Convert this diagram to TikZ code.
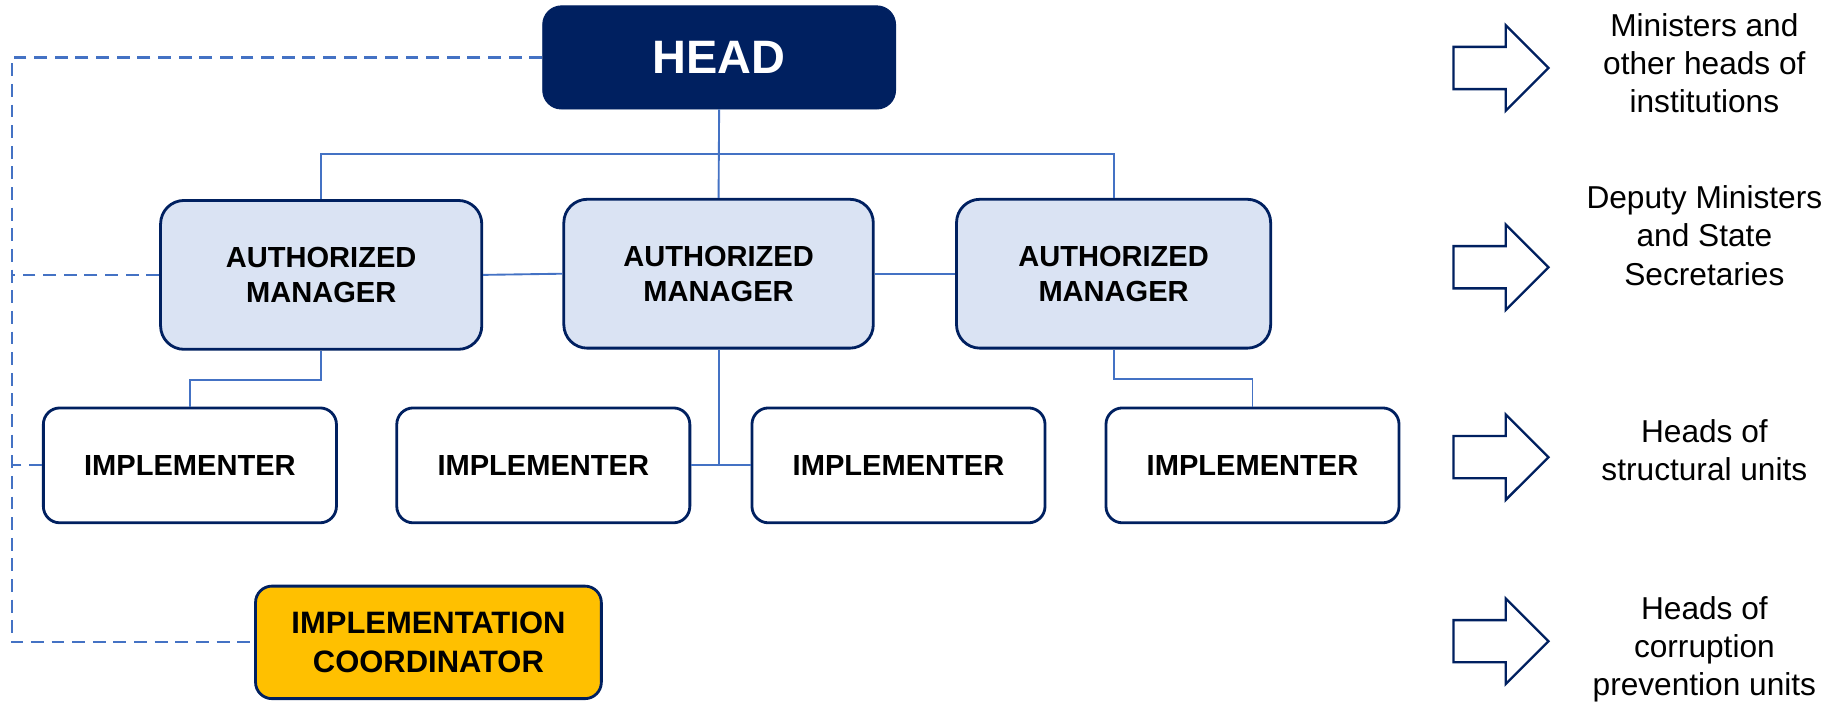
\documentclass[tikz,border=0pt]{standalone}
\usepackage{xcolor}
\usepackage{fontspec}
\setmainfont{Liberation Sans}
\usetikzlibrary{shapes.arrows}
\definecolor{headnavy}{RGB}{0,32,96}
\definecolor{managerfill}{RGB}{218,227,243}
\definecolor{linkblue}{RGB}{68,114,196}
\definecolor{coordgold}{RGB}{255,192,0}

\begin{document}
\begin{tikzpicture}[x=0.5pt, y=-0.5pt,
  headbox/.style={draw=headnavy, fill=headnavy, rounded corners=8pt, minimum width=150.5pt, minimum height=44pt, inner sep=0pt, text=white, font=\fontsize{20pt}{24pt}\selectfont\bfseries},
  managerbox/.style={draw=headnavy, line width=1.2pt, fill=managerfill, rounded corners=10pt, minimum width=134pt, minimum height=63.5pt, inner sep=0pt, align=center, font=\fontsize{12.4pt}{15pt}\selectfont\bfseries},
  implbox/.style={draw=headnavy, line width=1.2pt, fill=white, rounded corners=7pt, minimum width=125pt, minimum height=49pt, inner sep=0pt, font=\fontsize{12.4pt}{15pt}\selectfont\bfseries},
  coordbox/.style={draw=headnavy, line width=1.2pt, fill=coordgold, rounded corners=7pt, minimum width=147.5pt, minimum height=48pt, inner sep=0pt, align=center, font=\fontsize{13.2pt}{16.4pt}\selectfont\bfseries},
  link/.style={draw=linkblue, line width=0.8pt},
  dashlink/.style={draw=linkblue, line width=0.9pt, dash pattern=on 5.5pt off 3.3pt},
  bigarrow/.style={single arrow, draw=headnavy, line width=1pt, fill=white, minimum height=40.5pt, single arrow head extend=9.25pt, inner sep=0pt, anchor=tail},
  note/.style={align=center, font=\fontsize{13.5pt}{16.25pt}\selectfont}
]
\useasboundingbox (0,0) rectangle (1568,601);

% Hierarchy boxes
\node[headbox] (head) at (613.5,49) {HEAD};
\node[managerbox, minimum width=137pt] (mgrA) at (274,234.5) {AUTHORIZED\\MANAGER};
\node[managerbox, minimum width=132pt] (mgrB) at (613,233.5) {AUTHORIZED\\MANAGER};
\node[managerbox] (mgrC) at (950,233.5) {AUTHORIZED\\MANAGER};
\node[implbox] (implA) at (162,397) {IMPLEMENTER};
\node[implbox] (implB) at (463.5,397) {IMPLEMENTER};
\node[implbox] (implC) at (766.5,397) {IMPLEMENTER};
\node[implbox] (implD) at (1068.5,397) {IMPLEMENTER};
\node[coordbox] (coord) at (365.5,548) {IMPLEMENTATION\\COORDINATOR};

% Solid links
\coordinate (bar) at (613.5,131);
\draw[link] (head.south) -- (mgrB.north);
\draw[link] (mgrA.north) |- (bar) -| (mgrC.north);
\draw[link] (mgrA.east) -- (mgrB.west);
\draw[link] (mgrB.east) -- (mgrC.west);
\draw[link] (mgrA.south) -- ++(0,25) -| (implA.north);
\draw[link] (mgrC.south) -- ++(0,25) -| (implD.north);
\draw[link] (mgrB.south) -- (mgrB.south |- implB.east);
\draw[link] (implB.east) -- (implC.west);

% Dashed reporting line
\coordinate (rail) at (10,548);
\draw[dashlink] (head.west) -| (rail) -- (coord.west);
\draw[dashlink] (mgrA.west) -- (mgrA.west -| rail);
\draw[dashlink] (implA.west) -- (implA.west -| rail);

% Legend arrows
\node[bigarrow] (arrA) at (1239,58) {\rule{0pt}{17pt}};
\node[bigarrow] (arrB) at (1239,228) {\rule{0pt}{17pt}};
\node[bigarrow] (arrC) at (1239,390) {\rule{0pt}{17pt}};
\node[bigarrow] (arrD) at (1239,547) {\rule{0pt}{17pt}};
\node[note] (noteA) at (1454,54) {Ministers and\\other heads of\\institutions};
\node[note] (noteB) at (1454,201) {Deputy Ministers\\and State\\Secretaries};
\node[note] (noteC) at (1454,384) {Heads of\\structural units};
\node[note] (noteD) at (1454,554) {Heads of\\corruption\\prevention units};
\end{tikzpicture}
\end{document}
